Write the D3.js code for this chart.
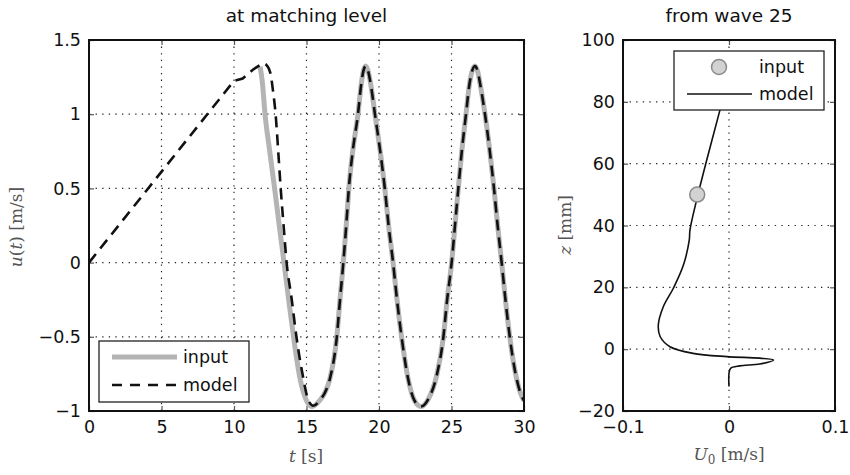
<!DOCTYPE html>
<html><head><meta charset="utf-8">
<script src="https://cdn.jsdelivr.net/npm/d3@7"></script>
<style>
body{margin:0;background:#fff;}
svg text{font-family:"DejaVu Sans",sans-serif;}
</style></head>
<body><svg id="c" width="850" height="475"></svg>
<script>
// ---------- data ----------
const leftTitle = "at matching level";
const rightTitle = "from wave 25";
const tTicks = [0,5,10,15,20,25,30];
const tTickLabels = ["0","5","10","15","20","25","30"];
const uTicks = [-1,-0.5,0,0.5,1,1.5];
const uTickLabels = ["−1","−0.5","0","0.5","1","1.5"];
const U0Ticks = [-0.1,0,0.1];
const U0TickLabels = ["−0.1","0","0.1"];
const zTicks = [-20,0,20,40,60,80,100];
const zTickLabels = ["−20","0","20","40","60","80","100"];

// input velocity series (t [s], u [m/s])
const inputT = [11.8,11.95,12.14,12.45,12.8,13.12,13.45,13.77,14.12,14.55,15.0,15.4,15.9,16.3,16.62,17.08,17.31,17.54,17.74,17.92,18.2,18.55,18.76,18.92,19.08,19.25,19.45,19.72,20.07,20.4,20.66,20.97,21.24,21.57,22.0,22.45,22.9,23.4,23.98,24.43,24.7,25.01,25.24,25.47,25.72,26.0,26.22,26.42,26.62,26.8,27.0,27.31,27.63,27.93,28.18,28.46,28.72,29.03,29.4,29.84,30.0];
const inputU = [1.32,1.22,1.0,0.76,0.5,0.25,0.0,-0.25,-0.51,-0.78,-0.93,-0.97,-0.93,-0.87,-0.78,-0.51,-0.25,0.0,0.25,0.5,0.76,1.0,1.19,1.29,1.325,1.29,1.19,1.0,0.76,0.5,0.25,0.0,-0.25,-0.51,-0.78,-0.93,-0.97,-0.92,-0.76,-0.51,-0.25,0.0,0.25,0.5,0.76,1.0,1.19,1.29,1.325,1.29,1.19,1.0,0.76,0.5,0.25,0.0,-0.25,-0.51,-0.74,-0.9,-0.93];
// model velocity series (ramp break points first, then the wave)
const modelT = [0,10,10.6,11.3,12.0,12.25,12.5,12.7,12.87,13.05,13.22,13.42,13.63,13.97,14.32,14.78,15.1,15.47,15.9,16.3,16.62,17.08,17.31,17.54,17.74,17.92,18.2,18.55,18.76,18.92,19.08,19.25,19.45,19.72,20.07,20.4,20.66,20.97,21.24,21.57,22.0,22.45,22.9,23.4,23.98,24.43,24.7,25.01,25.24,25.47,25.72,26.0,26.22,26.42,26.62,26.8,27.0,27.31,27.63,27.93,28.18,28.46,28.72,29.03,29.4,29.84,30.0];
const modelU = [0,1.225,1.24,1.30,1.345,1.33,1.28,1.15,1.0,0.75,0.5,0.25,0.0,-0.24,-0.51,-0.78,-0.92,-0.965,-0.93,-0.87,-0.78,-0.51,-0.25,0.0,0.25,0.5,0.76,1.0,1.19,1.29,1.325,1.29,1.19,1.0,0.76,0.5,0.25,0.0,-0.25,-0.51,-0.78,-0.93,-0.97,-0.92,-0.76,-0.51,-0.25,0.0,0.25,0.5,0.76,1.0,1.19,1.29,1.325,1.29,1.19,1.0,0.76,0.5,0.25,0.0,-0.25,-0.51,-0.74,-0.9,-0.93];
const modelRampPoints = 5; // first points joined by straight segments

// right panel: profile U0(z)
const profileZ = [-12.1,-7.8,-6.2,-5.4,-4.8,-3.5,-2.9,-2.4,-1.35,0.8,4.1,7.8,13.7,19.7,27.2,35.3,38.6,48.3,61.2,77.4,81];
const profileU = [0,0,0.0015,0.010,0.029,0.042,0.029,-0.002,-0.034,-0.0557,-0.065,-0.0667,-0.062,-0.0525,-0.043,-0.0375,-0.0368,-0.0305,-0.021,-0.0085,-0.006];
const inputPointU = [-0.03];
const inputPointZ = [50];
const legendLabels = ["input","model"];

// ---------- layout ----------
const svg = d3.select("#c");
const L = {x0:89, x1:524, y0:40, y1:411};
const R = {x0:623, x1:835, y0:40, y1:411};
const xL = d3.scaleLinear().domain([0,30]).range([L.x0,L.x1]);
const yL = d3.scaleLinear().domain([-1,1.5]).range([L.y1,L.y0]);
const xR = d3.scaleLinear().domain([-0.1,0.1]).range([R.x0,R.x1]);
const yR = d3.scaleLinear().domain([-20,100]).range([R.y1,R.y0]);

const defs = svg.append("defs");
defs.append("clipPath").attr("id","clipL").append("rect")
  .attr("x",L.x0).attr("y",L.y0).attr("width",L.x1-L.x0).attr("height",L.y1-L.y0);
defs.append("clipPath").attr("id","clipR").append("rect")
  .attr("x",R.x0).attr("y",R.y0).attr("width",R.x1-R.x0).attr("height",R.y1-R.y0);

const FS = 17.5;

function panel(P, xs, ys, xt, xtl, yt, ytl, xgrid, ygrid){
  const g = svg.append("g");
  g.selectAll(".gx").data(xgrid).join("line")
    .attr("x1",d=>xs(d)).attr("x2",d=>xs(d)).attr("y1",P.y0).attr("y2",P.y1)
    .attr("stroke","#222").attr("stroke-width",1.2).attr("stroke-dasharray","1.3,5.3");
  g.selectAll(".gy").data(ygrid).join("line")
    .attr("y1",d=>ys(d)).attr("y2",d=>ys(d)).attr("x1",P.x0).attr("x2",P.x1)
    .attr("stroke","#222").attr("stroke-width",1.2).attr("stroke-dasharray","1.3,5.3");
  const ax = d3.axisBottom(xs).tickValues(xt).tickFormat((d,i)=>xtl[i]).tickSizeInner(-5).tickSizeOuter(0).tickPadding(10);
  const ay = d3.axisLeft(ys).tickValues(yt).tickFormat((d,i)=>ytl[i]).tickSizeInner(-5).tickSizeOuter(0).tickPadding(8);
  const axT = d3.axisTop(xs).tickValues(xt).tickFormat("").tickSizeInner(-5).tickSizeOuter(0);
  const ayR = d3.axisRight(ys).tickValues(yt).tickFormat("").tickSizeInner(-5).tickSizeOuter(0);
  [ [ax,`translate(0,${P.y1})`], [ay,`translate(${P.x0},0)`], [axT,`translate(0,${P.y0})`], [ayR,`translate(${P.x1},0)`] ]
   .forEach(([a,tr])=>{
     const gg = g.append("g").attr("transform",tr).call(a);
     gg.select(".domain").remove();
     gg.selectAll("line").attr("stroke","#555").attr("stroke-width",1.2);
     gg.selectAll("text").attr("fill","#111").style("font-size",FS+"px").style("font-family","DejaVu Sans");
   });
  return g;
}

panel(L, xL, yL, tTicks, tTickLabels, uTicks, uTickLabels, [5,10,15,20,25], [-0.5,0,0.5,1]);
panel(R, xR, yR, U0Ticks, U0TickLabels, zTicks, zTickLabels, [0], [0,20,40,60,80]);

// ---------- left series ----------
const lineSmooth = d3.line().x(d=>xL(d[0])).y(d=>yL(d[1])).curve(d3.curveMonotoneX);
const lineStraight = d3.line().x(d=>xL(d[0])).y(d=>yL(d[1])).curve(d3.curveLinear);
const inputData = inputT.map((t,i)=>[t,inputU[i]]);
const modelData = modelT.map((t,i)=>[t,modelU[i]]);
const cl = svg.append("g").attr("clip-path","url(#clipL)");
cl.append("path").datum(inputData).attr("d",lineSmooth).attr("fill","none")
  .attr("stroke","#b4b4b4").attr("stroke-width",5).attr("stroke-linejoin","round");
const rampPath = lineStraight(modelData.slice(0,modelRampPoints));
const wavePath = lineSmooth(modelData.slice(modelRampPoints-1)).replace(/^M/,"L");
cl.append("path").attr("d",rampPath+wavePath)
  .attr("fill","none").attr("stroke","#111").attr("stroke-width",2.6).attr("stroke-dasharray","11,7");

// ---------- right series ----------
const lineR = d3.line().x(d=>xR(d[1])).y(d=>yR(d[0])).curve(d3.curveCatmullRom.alpha(0.5));
const profData = profileZ.map((z,i)=>[z,profileU[i]]);
const cr = svg.append("g").attr("clip-path","url(#clipR)");
cr.append("path").datum(profData).attr("d",lineR).attr("fill","none")
  .attr("stroke","#111").attr("stroke-width",1.6);
cr.selectAll("circle.pt").data(inputPointU).join("circle")
  .attr("cx",(d)=>xR(d)).attr("cy",(d,i)=>yR(inputPointZ[i])).attr("r",7.5)
  .attr("fill","#d2d2d2").attr("stroke","#8a8a8a").attr("stroke-width",1.5);

// frames
[L,R].forEach(P=>{
  svg.append("rect").attr("x",P.x0).attr("y",P.y0).attr("width",P.x1-P.x0).attr("height",P.y1-P.y0)
    .attr("fill","none").attr("stroke","#111").attr("stroke-width",2);
});

// ---------- legends ----------
const lg = svg.append("g");
lg.append("rect").attr("x",99).attr("y",341).attr("width",150).attr("height",61)
  .attr("fill","#fff").attr("stroke","#222").attr("stroke-width",1.3);
lg.append("line").attr("x1",112).attr("x2",177).attr("y1",357).attr("y2",357)
  .attr("stroke","#b4b4b4").attr("stroke-width",5);
lg.append("line").attr("x1",112).attr("x2",177).attr("y1",385).attr("y2",385)
  .attr("stroke","#111").attr("stroke-width",2.4).attr("stroke-dasharray","10,8");
lg.selectAll("text").data(legendLabels).join("text")
  .attr("x",183).attr("y",(d,i)=>363+i*28).text(d=>d).style("font-size",FS+"px").attr("fill","#111");

const rg = svg.append("g");
rg.append("rect").attr("x",674).attr("y",51).attr("width",150).attr("height",59)
  .attr("fill","#fff").attr("stroke","#222").attr("stroke-width",1.3);
rg.append("circle").attr("cx",719).attr("cy",67).attr("r",7.5)
  .attr("fill","#d2d2d2").attr("stroke","#8a8a8a").attr("stroke-width",1.5);
rg.append("line").attr("x1",687).attr("x2",752).attr("y1",94).attr("y2",94)
  .attr("stroke","#111").attr("stroke-width",1.6);
rg.selectAll("text").data(legendLabels).join("text")
  .attr("x",759).attr("y",(d,i)=>73+i*27).text(d=>d).style("font-size",FS+"px").attr("fill","#111");

// ---------- titles and labels ----------
svg.append("text").attr("x",(L.x0+L.x1)/2).attr("y",22).attr("text-anchor","middle")
  .style("font-size","18.5px").attr("fill","#111").text(leftTitle);
svg.append("text").attr("x",(R.x0+R.x1)/2).attr("y",22).attr("text-anchor","middle")
  .style("font-size","18.5px").attr("fill","#111").text(rightTitle);

const serif = "'DejaVu Serif','Liberation Serif',serif";
function label(x,y,rot,parts){
  const t = svg.append("text").attr("transform",`translate(${x},${y}) rotate(${rot})`)
    .attr("text-anchor","middle").style("font-family",serif).style("font-size","17px").attr("fill","#555");
  parts.forEach(p=>{
    const s = t.append("tspan").text(p.s);
    if(p.i) s.style("font-style","italic");
    if(p.sub) s.attr("dy","4").style("font-size","12px");
    if(p.after) s.attr("dy","-4");
  });
}
label(306,462,0,[{s:"t",i:true},{s:" [s]"}]);
label(22,227,-90,[{s:"u",i:true},{s:"("},{s:"t",i:true},{s:") [m/s]"}]);
label(729,460,0,[{s:"U",i:true},{s:"0",sub:true},{s:" [m/s]",after:true}]);
label(571,225,-90,[{s:"z",i:true},{s:" [mm]"}]);
</script></body></html>
